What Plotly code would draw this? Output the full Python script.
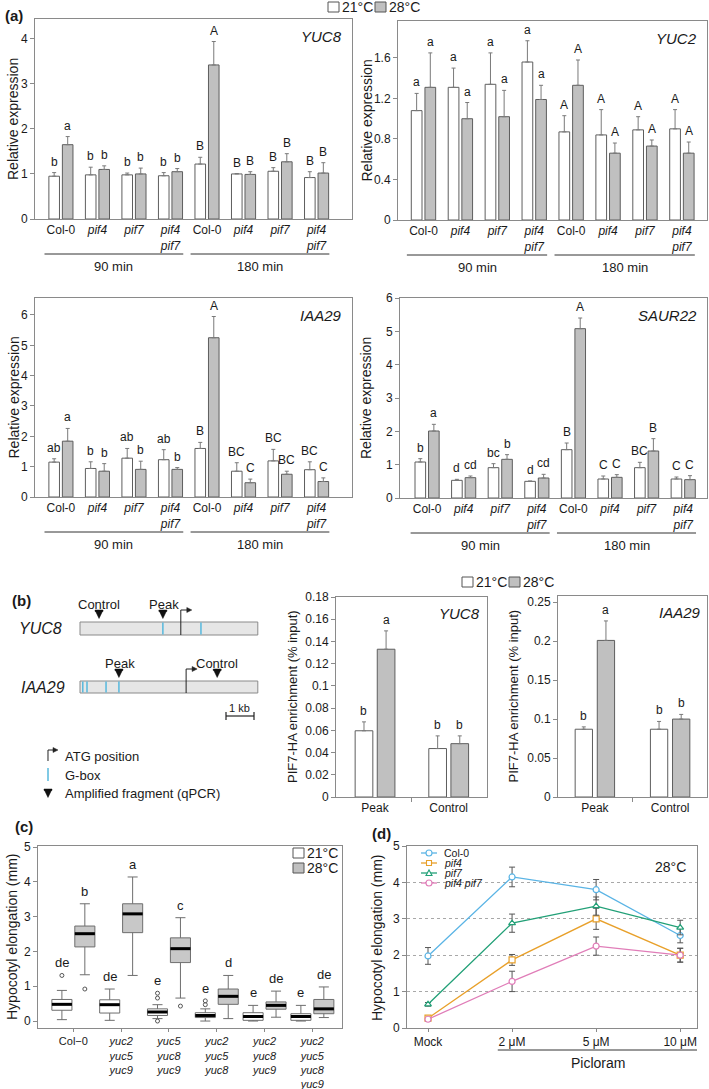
import plotly.graph_objects as go

W, H = 709, 1089
FONT = "Liberation Sans, Arial, sans-serif"
TEXT = "#1a1a1a"
AXIS_LINE = "#8a8a8a"
BAR_LINE = "#5e5e5e"
GREY_FILL = "#c0c0c0"
ERR = "#7a7a7a"

# ---------------- DATA ----------------
genotypes_a = ["Col-0", "<i>pif4</i>", "<i>pif7</i>", "<i>pif4<br>pif7</i>",
               "Col-0", "<i>pif4</i>", "<i>pif7</i>", "<i>pif4<br>pif7</i>"]
time_groups = ["90 min", "180 min"]

yuc8_21 = [0.95, 0.98, 0.98, 0.96, 1.22, 1.00, 1.06, 0.92]
yuc8_21_err = [0.08, 0.17, 0.04, 0.07, 0.15, 0.01, 0.08, 0.13]
yuc8_28 = [1.65, 1.10, 1.00, 1.05, 3.42, 0.99, 1.27, 1.02]
yuc8_28_err = [0.18, 0.08, 0.13, 0.07, 0.52, 0.06, 0.18, 0.23]
yuc8_let21 = ["b", "b", "b", "b", "B", "B", "B", "B"]
yuc8_let28 = ["a", "b", "b", "b", "A", "B", "B", "B"]

yuc2_21 = [1.08, 1.31, 1.34, 1.56, 0.87, 0.84, 0.89, 0.90]
yuc2_21_err = [0.17, 0.19, 0.31, 0.21, 0.16, 0.25, 0.13, 0.19]
yuc2_28 = [1.31, 1.00, 1.02, 1.19, 1.33, 0.66, 0.73, 0.66]
yuc2_28_err = [0.34, 0.16, 0.26, 0.14, 0.25, 0.10, 0.06, 0.11]
yuc2_let21 = ["a", "a", "a", "a", "A", "A", "A", "A"]
yuc2_let28 = ["a", "a", "a", "a", "A", "A", "A", "A"]

iaa29_21 = [1.15, 0.94, 1.28, 1.23, 1.60, 0.85, 1.19, 0.90]
iaa29_21_err = [0.11, 0.22, 0.32, 0.33, 0.20, 0.28, 0.38, 0.26]
iaa29_28 = [1.84, 0.85, 0.91, 0.91, 5.25, 0.47, 0.75, 0.51]
iaa29_28_err = [0.42, 0.25, 0.27, 0.06, 0.70, 0.12, 0.10, 0.12]
iaa29_let21 = ["ab", "b", "ab", "ab", "B", "BC", "BC", "BC"]
iaa29_let28 = ["a", "b", "b", "b", "A", "C", "BC", "C"]

saur22_21 = [1.08, 0.53, 0.91, 0.50, 1.45, 0.57, 0.91, 0.57]
saur22_21_err = [0.10, 0.03, 0.12, 0.01, 0.20, 0.09, 0.16, 0.06]
saur22_28 = [2.01, 0.61, 1.16, 0.60, 5.08, 0.62, 1.41, 0.55]
saur22_28_err = [0.20, 0.05, 0.14, 0.11, 0.32, 0.08, 0.37, 0.12]
saur22_let21 = ["b", "d", "bc", "d", "B", "C", "BC", "C"]
saur22_let28 = ["a", "cd", "b", "cd", "A", "C", "B", "C"]

chip_regions = ["Peak", "Control"]
chip_yuc8_21 = [0.0596, 0.0436]
chip_yuc8_21_err = [0.0080, 0.0114]
chip_yuc8_28 = [0.1330, 0.0480]
chip_yuc8_28_err = [0.0165, 0.0070]
chip_yuc8_let21 = ["b", "b"]
chip_yuc8_let28 = ["a", "b"]
chip_iaa29_21 = [0.087, 0.087]
chip_iaa29_21_err = [0.003, 0.010]
chip_iaa29_28 = [0.201, 0.100]
chip_iaa29_28_err = [0.025, 0.006]
chip_iaa29_let21 = ["b", "b"]
chip_iaa29_let28 = ["a", "b"]

# gene schematic (kb from the left end of the drawn region)
region_len_kb = 6.35
yuc8_gbox_kb = [2.96, 4.32]
yuc8_atg_kb = 3.60
yuc8_peak_kb = 2.96
yuc8_control_kb = 0.68
iaa29_gbox_kb = [0.10, 0.25, 0.93, 1.39]
iaa29_atg_kb = 3.79
iaa29_peak_kb = 1.39
iaa29_control_kb = 4.90

lines_c = ["Col−0", "<i>yuc2<br>yuc5<br>yuc9</i>", "<i>yuc5<br>yuc8<br>yuc9</i>",
           "<i>yuc2<br>yuc5<br>yuc8</i>", "<i>yuc2<br>yuc8<br>yuc9</i>",
           "<i>yuc2<br>yuc5<br>yuc8<br>yuc9</i>"]
c21_low = [0.04, 0.02, 0.07, 0.00, 0.00, 0.00]
c21_q1 = [0.31, 0.23, 0.16, 0.10, 0.02, 0.02]
c21_med = [0.48, 0.47, 0.26, 0.16, 0.13, 0.13]
c21_q3 = [0.62, 0.61, 0.35, 0.24, 0.24, 0.21]
c21_high = [0.88, 0.92, 0.47, 0.35, 0.45, 0.45]
c21_out = [[1.31], [], [0.80, 0.66, 0.0], [0.58, 0.47], [], []]
c21_let = ["de", "de", "e", "e", "e", "e"]
c28_low = [1.33, 1.31, 0.66, 0.07, 0.11, 0.10]
c28_q1 = [2.13, 2.54, 1.68, 0.48, 0.34, 0.21]
c28_med = [2.51, 3.08, 2.08, 0.71, 0.45, 0.35]
c28_q3 = [2.73, 3.37, 2.39, 0.92, 0.55, 0.62]
c28_high = [3.37, 4.14, 2.97, 1.31, 0.86, 0.98]
c28_out = [[0.92], [], [0.43], [], [], []]
c28_let = ["b", "a", "c", "d", "de", "de"]

conc_labels = ["Mock", "2 μM", "5 μM", "10 μM"]
d_names = ["Col-0", "<i>pif4</i>", "<i>pif7</i>", "<i>pif4 pif7</i>"]
d_col0 = [1.98, 4.15, 3.80, 2.54]
d_col0_err = [0.23, 0.27, 0.28, 0.20]
d_pif4 = [0.27, 1.87, 3.00, 2.00]
d_pif4_err = [0.05, 0.15, 0.29, 0.19]
d_pif7 = [0.65, 2.88, 3.35, 2.76]
d_pif7_err = [0.05, 0.25, 0.25, 0.20]
d_pif4pif7 = [0.24, 1.28, 2.25, 2.00]
d_pif4pif7_err = [0.05, 0.28, 0.25, 0.19]
d_colors = ["#5ab4e5", "#e8a02a", "#22a077", "#e07db8"]
d_symbols = ["circle", "square", "triangle-up", "circle"]

# ---------------- helpers ----------------
def px(x):
    return x / W

def py(y):
    return 1 - y / H

def P(x, y):
    return f"{px(x):.5f},{py(y):.5f}"

def ids(n):
    s = "" if n == 1 else str(n)
    return "x" + s, "y" + s, "xaxis" + s, "yaxis" + s

fig = go.Figure()
shapes, annots, axes = [], [], {}

def txt(x, y, s, size=12, xanchor="center", yanchor="middle", **kw):
    annots.append(dict(x=px(x), y=py(y), xref="paper", yref="paper", text=s,
                       showarrow=False, xanchor=xanchor, yanchor=yanchor,
                       font=dict(size=size, color=TEXT, family=FONT), **kw))

def make_axes(n, xpx, ypx, xr, yr, **ykw):
    xa, ya, xk, yk = ids(n)
    common = dict(showline=True, linecolor=AXIS_LINE, linewidth=1, mirror=True,
                  showgrid=False, zeroline=False, tickcolor=AXIS_LINE, automargin=False,
                  tickfont=dict(size=12, color=TEXT, family=FONT))
    axes[xk] = dict(domain=[px(xpx[0]), px(xpx[1])], range=list(xr), anchor=ya, **common)
    yd = dict(domain=[py(ypx[1]), py(ypx[0])], range=list(yr), anchor=xa,
              ticks="outside", ticklen=4, **common)
    yd.update(ykw)
    axes[yk] = yd
    return xa, ya, xk, yk

def add_bars(xa, ya, pos, v21, e21, v28, e28, l21, l28, bw, off):
    for vals, errs, lets, fill, sgn in [(v21, e21, l21, "white", -1), (v28, e28, l28, GREY_FILL, 1)]:
        xs = [p + sgn * off for p in pos]
        fig.add_trace(go.Bar(
            x=xs, y=vals, width=bw, xaxis=xa, yaxis=ya, showlegend=False,
            marker=dict(color=fill, line=dict(color=BAR_LINE, width=1)),
            error_y=dict(type="data", symmetric=False, array=errs,
                         arrayminus=[0] * len(errs), color=ERR, thickness=1, width=2)))
        for x, v, e, l in zip(xs, vals, errs, lets):
            annots.append(dict(x=x, y=v + e, xref=xa, yref=ya, text=l, showarrow=False,
                               yanchor="bottom", yshift=2,
                               font=dict(size=12, color=TEXT, family=FONT)))

# ---------------- panel (a) ----------------
panels_a = [
    dict(n=1, gene="YUC8", v21=yuc8_21, e21=yuc8_21_err, v28=yuc8_28, e28=yuc8_28_err,
         l21=yuc8_let21, l28=yuc8_let28, xpx=(35, 352), ypx=(19, 219), xr=(-0.71, 7.97),
         yr=(0, 4.44), dtick=1, tx=13),
    dict(n=2, gene="YUC2", v21=yuc2_21, e21=yuc2_21_err, v28=yuc2_28, e28=yuc2_28_err,
         l21=yuc2_let21, l28=yuc2_let28, xpx=(398, 707), ypx=(21, 220), xr=(-0.69, 7.68),
         yr=(0, 1.965), dtick=0.4, tx=366),
    dict(n=3, gene="IAA29", v21=iaa29_21, e21=iaa29_21_err, v28=iaa29_28, e28=iaa29_28_err,
         l21=iaa29_let21, l28=iaa29_let28, xpx=(35, 352), ypx=(298, 497), xr=(-0.71, 7.97),
         yr=(0, 6.56), dtick=1, tx=13),
    dict(n=4, gene="SAUR22", v21=saur22_21, e21=saur22_21_err, v28=saur22_28, e28=saur22_28_err,
         l21=saur22_let21, l28=saur22_let28, xpx=(400, 707), ypx=(298, 498), xr=(-0.74, 7.65),
         yr=(0, 6.0), dtick=1, tx=366),
]
pos_a = list(range(len(genotypes_a)))
for p in panels_a:
    xa, ya, xk, yk = make_axes(p["n"], p["xpx"], p["ypx"], p["xr"], p["yr"], dtick=p["dtick"])
    axes[xk].update(tickvals=pos_a, ticktext=genotypes_a, ticks="")
    add_bars(xa, ya, pos_a, p["v21"], p["e21"], p["v28"], p["e28"], p["l21"], p["l28"], 0.29, 0.185)
    annots.append(dict(x=0.975, y=0.965, xref=xa + " domain", yref=ya + " domain",
                       text="<i>" + p["gene"] + "</i>", showarrow=False, xanchor="right",
                       yanchor="top", font=dict(size=15, color=TEXT, family=FONT)))
    yb = p["ypx"][1]
    for gi, g in enumerate(time_groups):
        x0, x1 = gi * 4 - 0.45, gi * 4 + 3.35
        shapes.append(dict(type="line", xref=xa, yref="paper", x0=x0, x1=x1,
                           y0=py(yb + 35), y1=py(yb + 35), line=dict(color="#333", width=1)))
        annots.append(dict(x=(x0 + x1) / 2, y=py(yb + 47), xref=xa, yref="paper", text=g,
                           showarrow=False, yanchor="middle",
                           font=dict(size=13, color=TEXT, family=FONT)))
    txt(p["tx"], (p["ypx"][0] + p["ypx"][1]) / 2, "Relative expression", size=14, textangle=-90)

# ---------------- panel (b) ChIP ----------------
panels_b = [
    dict(n=5, gene="YUC8", v21=chip_yuc8_21, e21=chip_yuc8_21_err, v28=chip_yuc8_28,
         e28=chip_yuc8_28_err, l21=chip_yuc8_let21, l28=chip_yuc8_let28,
         xpx=(336, 487), ypx=(597, 797), xr=(-0.53, 1.52), yr=(0, 0.18), dtick=0.02,
         bw=0.24, off=0.15, tx=292),
    dict(n=6, gene="IAA29", v21=chip_iaa29_21, e21=chip_iaa29_21_err, v28=chip_iaa29_28,
         e28=chip_iaa29_28_err, l21=chip_iaa29_let21, l28=chip_iaa29_let28,
         xpx=(558, 707), ypx=(596, 797), xr=(-0.49, 1.49), yr=(0, 0.258), dtick=0.05,
         bw=0.23, off=0.147, tx=513),
]
pos_b = list(range(len(chip_regions)))
for p in panels_b:
    xa, ya, xk, yk = make_axes(p["n"], p["xpx"], p["ypx"], p["xr"], p["yr"], dtick=p["dtick"])
    axes[xk].update(tickvals=pos_b, ticktext=chip_regions, ticks="",
                    minor=dict(tickmode="array", tickvals=[0.5], ticks="outside",
                               ticklen=4, tickcolor=AXIS_LINE))
    add_bars(xa, ya, pos_b, p["v21"], p["e21"], p["v28"], p["e28"], p["l21"], p["l28"],
             p["bw"], p["off"])
    annots.append(dict(x=0.97, y=0.97, xref=xa + " domain", yref=ya + " domain",
                       text="<i>" + p["gene"] + "</i>", showarrow=False, xanchor="right",
                       yanchor="top", font=dict(size=15, color=TEXT, family=FONT)))
    txt(p["tx"], (p["ypx"][0] + p["ypx"][1]) / 2, "PIF7-HA enrichment (% input)",
        size=13, textangle=-90)

# ---------------- panel (b) schematic ----------------
KB = 28.0
X0 = 80.0
GBOX = "#56b8dd"

def kbx(k):
    return X0 + k * KB

def tri_down(cx, cy):
    path = ("M" + P(cx - 4, cy - 5) + " L" + P(cx + 4, cy - 5) + " L" + P(cx + 4, cy - 3.6)
            + " L" + P(cx - 4, cy - 3.6) + " Z M" + P(cx - 3.4, cy - 3.6) + " L"
            + P(cx + 3.4, cy - 3.6) + " L" + P(cx, cy + 3.5) + " Z")
    shapes.append(dict(type="path", xref="paper", yref="paper", path=path,
                       fillcolor="#111", line=dict(color="#111", width=0.5)))

def atg(x, ytop, h, L):
    shapes.append(dict(type="path", xref="paper", yref="paper",
                       path="M" + P(x, ytop) + " L" + P(x, ytop - h) + " L" + P(x + L, ytop - h),
                       line=dict(color="#222", width=1)))
    shapes.append(dict(type="path", xref="paper", yref="paper",
                       path="M" + P(x + L - 1, ytop - h - 2.5) + " L" + P(x + L + 4, ytop - h)
                       + " L" + P(x + L - 1, ytop - h + 2.5) + " Z",
                       fillcolor="#222", line=dict(color="#222", width=0.5)))

rows = [
    dict(name="YUC8", y0=622, y1=635, gb=yuc8_gbox_kb, atg=yuc8_atg_kb,
         peak=yuc8_peak_kb, ctrl=yuc8_control_kb, lx=64),
    dict(name="IAA29", y0=681, y1=693, gb=iaa29_gbox_kb, atg=iaa29_atg_kb,
         peak=iaa29_peak_kb, ctrl=iaa29_control_kb, lx=67),
]
for r in rows:
    shapes.append(dict(type="rect", xref="paper", yref="paper", x0=px(kbx(0)),
                       x1=px(kbx(region_len_kb)), y0=py(r["y1"]), y1=py(r["y0"]),
                       fillcolor="#e6e6e6", line=dict(color="#8a8a8a", width=1)))
    for g in r["gb"]:
        shapes.append(dict(type="line", xref="paper", yref="paper", x0=px(kbx(g)), x1=px(kbx(g)),
                           y0=py(r["y1"] - 0.5), y1=py(r["y0"] + 0.5),
                           line=dict(color=GBOX, width=1.5)))
    shapes.append(dict(type="line", xref="paper", yref="paper", x0=px(kbx(r["atg"])),
                       x1=px(kbx(r["atg"])), y0=py(r["y1"]), y1=py(r["y0"]),
                       line=dict(color="#222", width=1)))
    atg(kbx(r["atg"]), r["y0"], 12, 7)
    for k, lab in [(r["peak"], "Peak"), (r["ctrl"], "Control")]:
        tri_down(kbx(k), r["y0"] - 7)
        txt(kbx(k) + (1 if lab == "Peak" else 0), r["y0"] - 18, lab, size=13)
    txt(r["lx"], (r["y0"] + r["y1"]) / 2, "<i>" + r["name"] + "</i>", size=16, xanchor="right")

# scale bar 1 kb
shapes.append(dict(type="line", xref="paper", yref="paper", x0=px(226), x1=px(226 + KB),
                   y0=py(716), y1=py(716), line=dict(color="#222", width=1.2)))
for xx in (226, 226 + KB):
    shapes.append(dict(type="line", xref="paper", yref="paper", x0=px(xx), x1=px(xx),
                       y0=py(712), y1=py(720), line=dict(color="#222", width=1.2)))
txt(240, 708, "1 kb", size=11)

# schematic legend
atg(48, 761, 11, 6)
txt(63, 756, "ATG position", size=13, xanchor="left")
shapes.append(dict(type="line", xref="paper", yref="paper", x0=px(48), x1=px(48),
                   y0=py(768), y1=py(781), line=dict(color=GBOX, width=1.5)))
txt(63, 775, "G-box", size=13, xanchor="left")
tri_down(48, 794)
txt(63, 793, "Amplified fragment (qPCR)", size=13, xanchor="left")

# ---------------- panel (c) boxplots ----------------
xa, ya, xk, yk = make_axes(7, (38, 342), (846, 1028), (-0.74, 5.62), (-0.2, 5.03), dtick=1)
pos_c = list(range(len(lines_c)))
axes[xk].update(tickvals=pos_c, ticktext=lines_c, ticks="outside", ticklen=3,
                tickfont=dict(size=11, color=TEXT, family=FONT))
BOXW, BOFF = 0.42, 0.24
for low, q1, med, q3, high, outs, lets, fill, sgn in [
        (c21_low, c21_q1, c21_med, c21_q3, c21_high, c21_out, c21_let, "white", -1),
        (c28_low, c28_q1, c28_med, c28_q3, c28_high, c28_out, c28_let, "#c8c8c8", 1)]:
    xs = [p + sgn * BOFF for p in pos_c]
    fig.add_trace(go.Box(x=xs, q1=q1, median=med, q3=q3, lowerfence=low, upperfence=high,
                         width=BOXW, whiskerwidth=0.5, fillcolor=fill,
                         line=dict(color="#6e6e6e", width=1), xaxis=xa, yaxis=ya,
                         showlegend=False, hoverinfo="skip"))
    mx, my = [], []
    for x, m in zip(xs, med):
        mx += [x - BOXW / 2, x + BOXW / 2, None]
        my += [m, m, None]
    fig.add_trace(go.Scatter(x=mx, y=my, mode="lines", line=dict(color="black", width=3),
                             xaxis=xa, yaxis=ya, showlegend=False, hoverinfo="skip"))
    ox, oy = [], []
    for x, o in zip(xs, outs):
        ox += [x] * len(o)
        oy += o
    fig.add_trace(go.Scatter(x=ox, y=oy, mode="markers", xaxis=xa, yaxis=ya, showlegend=False,
                             marker=dict(symbol="circle-open", size=4, color="#555",
                                         line=dict(width=1))))
    for x, h, o, l in zip(xs, high, outs, lets):
        top = max([h] + o)
        annots.append(dict(x=x, y=top, xref=xa, yref=ya, text=l, showarrow=False,
                           yanchor="bottom", yshift=3,
                           font=dict(size=13, color=TEXT, family=FONT)))
txt(12, 937, "Hypocotyl elongation (mm)", size=14, textangle=-90)

# ---------------- panel (d) lines ----------------
xa, ya, xk, yk = make_axes(8, (407, 697), (846, 1028), (-0.25, 3.2), (0, 5), dtick=1,
                           showgrid=True, gridcolor="#a8a8a8", griddash="dot", gridwidth=1)
pos_d = list(range(len(conc_labels)))
axes[xk].update(tickvals=pos_d, ticktext=conc_labels, ticks="outside", ticklen=3)
for name, vals, errs, col, sym in zip(d_names, [d_col0, d_pif4, d_pif7, d_pif4pif7],
                                      [d_col0_err, d_pif4_err, d_pif7_err, d_pif4pif7_err],
                                      d_colors, d_symbols):
    fig.add_trace(go.Scatter(
        x=pos_d, y=vals, mode="lines+markers", name=name, xaxis=xa, yaxis=ya, showlegend=False,
        line=dict(color=col, width=1.3),
        marker=dict(symbol=sym, size=6, color="white", line=dict(color=col, width=1.2)),
        error_y=dict(type="data", array=errs, color="#555", thickness=1, width=3)))
annots.append(dict(x=0.97, y=0.94, xref=xa + " domain", yref=ya + " domain", text="28°C",
                   showarrow=False, xanchor="right", yanchor="top",
                   font=dict(size=14, color=TEXT, family=FONT)))
shapes.append(dict(type="line", xref=xa, yref="paper", x0=0.83, x1=3.2, y0=py(1050),
                   y1=py(1050), line=dict(color="#333", width=1)))
annots.append(dict(x=2.02, y=py(1063), xref=xa, yref="paper", text="Picloram", showarrow=False,
                   yanchor="middle", font=dict(size=14, color=TEXT, family=FONT)))
txt(377, 937, "Hypocotyl elongation (mm)", size=14, textangle=-90)

# legend (d)
for i, (name, col, sym) in enumerate(zip(d_names, d_colors, d_symbols)):
    cy = 853 + i * 10
    shapes.append(dict(type="line", xref="paper", yref="paper", x0=px(421), x1=px(437),
                       y0=py(cy), y1=py(cy), line=dict(color=col, width=1.3)))
    if sym == "circle":
        shapes.append(dict(type="circle", xref="paper", yref="paper", x0=px(426), x1=px(432),
                           y0=py(cy + 3), y1=py(cy - 3), fillcolor="white",
                           line=dict(color=col, width=1.1)))
    elif sym == "square":
        shapes.append(dict(type="rect", xref="paper", yref="paper", x0=px(426.5), x1=px(431.5),
                           y0=py(cy + 2.5), y1=py(cy - 2.5), fillcolor="white",
                           line=dict(color=col, width=1.1)))
    else:
        shapes.append(dict(type="path", xref="paper", yref="paper",
                           path="M" + P(426, cy + 2.5) + " L" + P(432, cy + 2.5) + " L"
                           + P(429, cy - 3) + " Z", fillcolor="white",
                           line=dict(color=col, width=1.1)))
    txt(443, cy, name, size=10.5, xanchor="left", borderpad=0)

# ---------------- temperature legends ----------------
def temp_legend(x0, y0, horizontal=True):
    items = [("white", "21°C"), (GREY_FILL, "28°C")]
    for i, (fill, label) in enumerate(items):
        xx = x0 + (47 * i if horizontal else 0)
        yy = y0 + (0 if horizontal else 15 * i)
        shapes.append(dict(type="rect", xref="paper", yref="paper", x0=px(xx), x1=px(xx + 11),
                           y0=py(yy + 10), y1=py(yy), fillcolor=fill,
                           line=dict(color="#555", width=1)))
        txt(xx + 13, yy + 5, label, size=14, xanchor="left", borderpad=0)

temp_legend(328, 2)
temp_legend(462, 577)
temp_legend(293, 848, horizontal=False)

# panel labels
for lab, x, y in [("(a)", 3, 15), ("(b)", 10, 600), ("(c)", 13, 826), ("(d)", 370, 833)]:
    txt(x, y, "<b>" + lab + "</b>", size=15, xanchor="left")

fig.update_layout(
    width=W, height=H, margin=dict(l=0, r=0, t=0, b=0, pad=0, autoexpand=False),
    paper_bgcolor="white", plot_bgcolor="white", barmode="overlay", showlegend=False,
    font=dict(family=FONT, color=TEXT), shapes=shapes, annotations=annots, **axes)

fig.write_html("out.html", config={"displayModeBar": False},
               post_script="document.body.style.margin='0';document.body.style.overflow='hidden';")
